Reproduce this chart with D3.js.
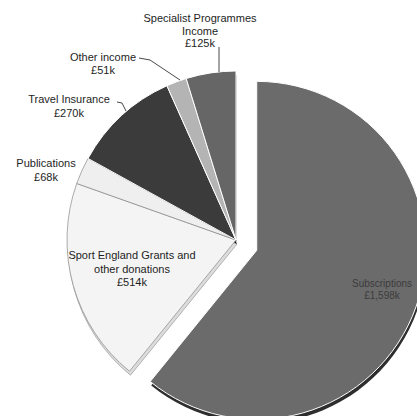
<!DOCTYPE html>
<html><head><meta charset="utf-8">
<script src="https://cdn.jsdelivr.net/npm/d3@7"></script>
<style>body{margin:0;background:#fff}svg{display:block}</style>
</head><body>
<svg id="c" width="417" height="416"></svg>
<script>
const categories = ["Subscriptions","Sport England Grants and other donations","Publications","Travel Insurance","Other income","Specialist Programmes Income"];
const values = [1598, 514, 68, 270, 51, 125];
const valueLabels = ["£1,598k","£514k","£68k","£270k","£51k","£125k"];
const labelLines = [["Subscriptions","£1,598k"],["Sport England Grants and","other donations","£514k"],["Publications","£68k"],["Travel Insurance","£270k"],["Other income","£51k"],["Specialist Programmes","Income","£125k"]];

const topFill  = ["#6b6b6b","#f4f4f4","#efefef","#3b3b3b","#b4b4b4","#666666"];
const sideFill = ["#2e2e2e","#dcdcdc","#8a8a8a","#0e0e0e","#d8d8d8","#b8b8b8"];
const explode  = [22,0,0,0,0,0];

const svg = d3.select("#c");
const cx = 236, cy = 240, R = 169;
const pie = d3.pie().sort(null).value(d=>d).startAngle(0).endAngle(2*Math.PI);
const arcs = pie(values);
const arc = d3.arc().innerRadius(0).outerRadius(R);

const g = svg.append("g").attr("transform",`translate(${cx},${cy})`);
arcs.forEach((a,i)=>{
  const m=(a.startAngle+a.endAngle)/2;
  a.ox = Math.sin(m)*explode[i];
  a.oy = -Math.cos(m)*explode[i] + (i===0?3:0);
});
// side (depth)
g.selectAll("path.side").data(arcs).join("path").attr("class","side")
  .attr("transform",a=>`translate(${a.ox+1},${a.oy+4})`)
  .attr("d",arc).attr("fill",(a,i)=>sideFill[i])
  .attr("stroke",(a,i)=>i===1?"#9a9a9a":"none").attr("stroke-width",0.7);
// top
g.selectAll("path.top").data(arcs).join("path").attr("class","top")
  .attr("transform",a=>`translate(${a.ox},${a.oy})`)
  .attr("d",arc).attr("fill",(a,i)=>topFill[i])
  .attr("stroke",(a,i)=>i===1||i===2?"#8a8a8a":"#ffffff").attr("stroke-width",(a,i)=>i===1||i===2?0.7:1);

// labels
const labelPos = [[382,287],[132,259],[46,167],[69,103],[103,61],[200,22]];
const fontSizes = [10,11,11,11,11,11];
const lineH = [12,13.5,13.5,13.5,13,12.5];
labelLines.forEach((lines,i)=>{
  const t = svg.append("text").attr("text-anchor","middle")
    .attr("font-family","Liberation Sans, Arial, sans-serif")
    .attr("font-size",fontSizes[i]).attr("fill",i===0?"#3c3c3c":"#1e1e1e");
  lines.forEach((s,j)=>t.append("tspan").attr("x",labelPos[i][0]).attr("y",labelPos[i][1]+j*lineH[i]).text(s));
});

// leader lines
const leaders = [
  [[219,47],[219,53],[219,72]],
  [[139,58],[150,60],[180,80]],
  [[117,102],[122,103],[126,111]]
];
const line = d3.line();
leaders.forEach(p=>svg.append("path").attr("d",line(p)).attr("fill","none").attr("stroke","#333").attr("stroke-width",0.9));
</script>
</body></html>
